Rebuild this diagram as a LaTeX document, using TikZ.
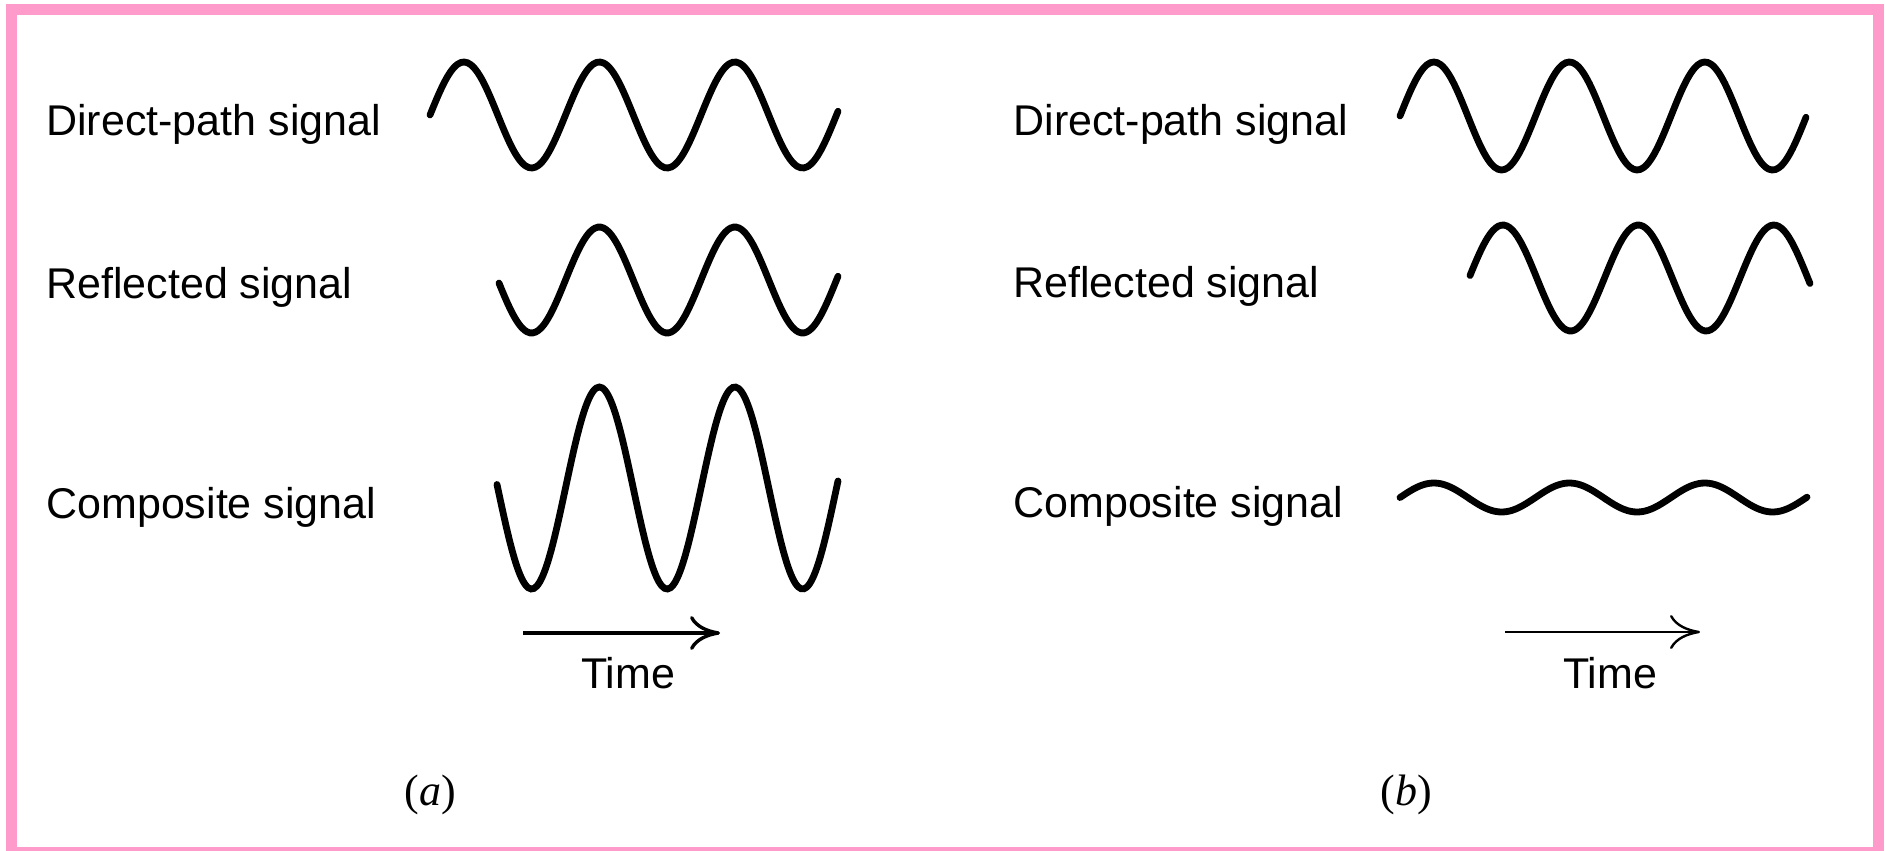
\documentclass[tikz,border=0pt]{standalone}
\usepackage{fontspec}
\setmainfont{Liberation Sans}
\newfontfamily\capfont{Liberation Serif}
\usetikzlibrary{arrows.meta}
\definecolor{framepink}{RGB}{255,155,202}

\begin{document}
\begin{tikzpicture}[x=0.5pt,y=-0.5pt,>={To[length=15pt,width=17pt]},
    lbl/.style={anchor=base west,inner sep=0pt,font=\fontsize{21.5}{24}\selectfont},
    timelbl/.style={anchor=base,inner sep=0pt,font=\fontsize{21.5}{24}\selectfont},
    sub/.style={inner sep=0pt,font=\capfont\fontsize{22}{26}\selectfont},
    wave/.style={line width=3.4pt,line cap=round,smooth}]
    \useasboundingbox (0,0) rectangle (1885,851);
    % frame
    \draw[framepink,line width=5.5pt] (11.5,9.5) rectangle (1878.5,852.5);
    % (a) signals in phase
    \node[lbl] (dira) at (46,135) {Direct-path signal};
    \node[lbl] (refa) at (46,298) {Reflected signal};
    \node[lbl] (coma) at (46,518) {Composite signal};
    \foreach \xa/\xb/\xo/\ym/\amp in {430/838/430/115/53,
        499/838/430/280/53, 497/838/430/488/101}{%
      \draw[wave] plot[domain=\xa:\xb,samples=121]
        (\x,{\ym-\amp*sin(((\x-\xo)/135.5)*360)});}
    \coordinate (ta0) at (523,633);
    \coordinate (ta1) at (720,633);
    \draw[->,line width=1.7pt] (ta0) -- (ta1);
    \node[timelbl] (timea) at (628,688) {Time};
    \node[sub] (capa) at (430,795) {(\textit{a})};
    % (b) signals out of phase
    \node[lbl] (dirb) at (1013,135) {Direct-path signal};
    \node[lbl] (refb) at (1013,297) {Reflected signal};
    \node[lbl] (comb) at (1013,517) {Composite signal};
    \foreach \xa/\xb/\xo/\ym/\amp in {1400/1806/1400/116/54,
        1470/1810/1469/278/53, 1400/1807/1400/497.5/14.5}{%
      \draw[wave] plot[domain=\xa:\xb,samples=121]
        (\x,{\ym-\amp*sin(((\x-\xo)/135.5)*360)});}
    \coordinate (tb0) at (1505,632);
    \coordinate (tb1) at (1700,632);
    \draw[->,line width=1.2pt] (tb0) -- (tb1);
    \node[timelbl] (timeb) at (1610,688) {Time};
    \node[sub] (capb) at (1406,795) {(\textit{b})};
  \end{tikzpicture}
\end{document}
